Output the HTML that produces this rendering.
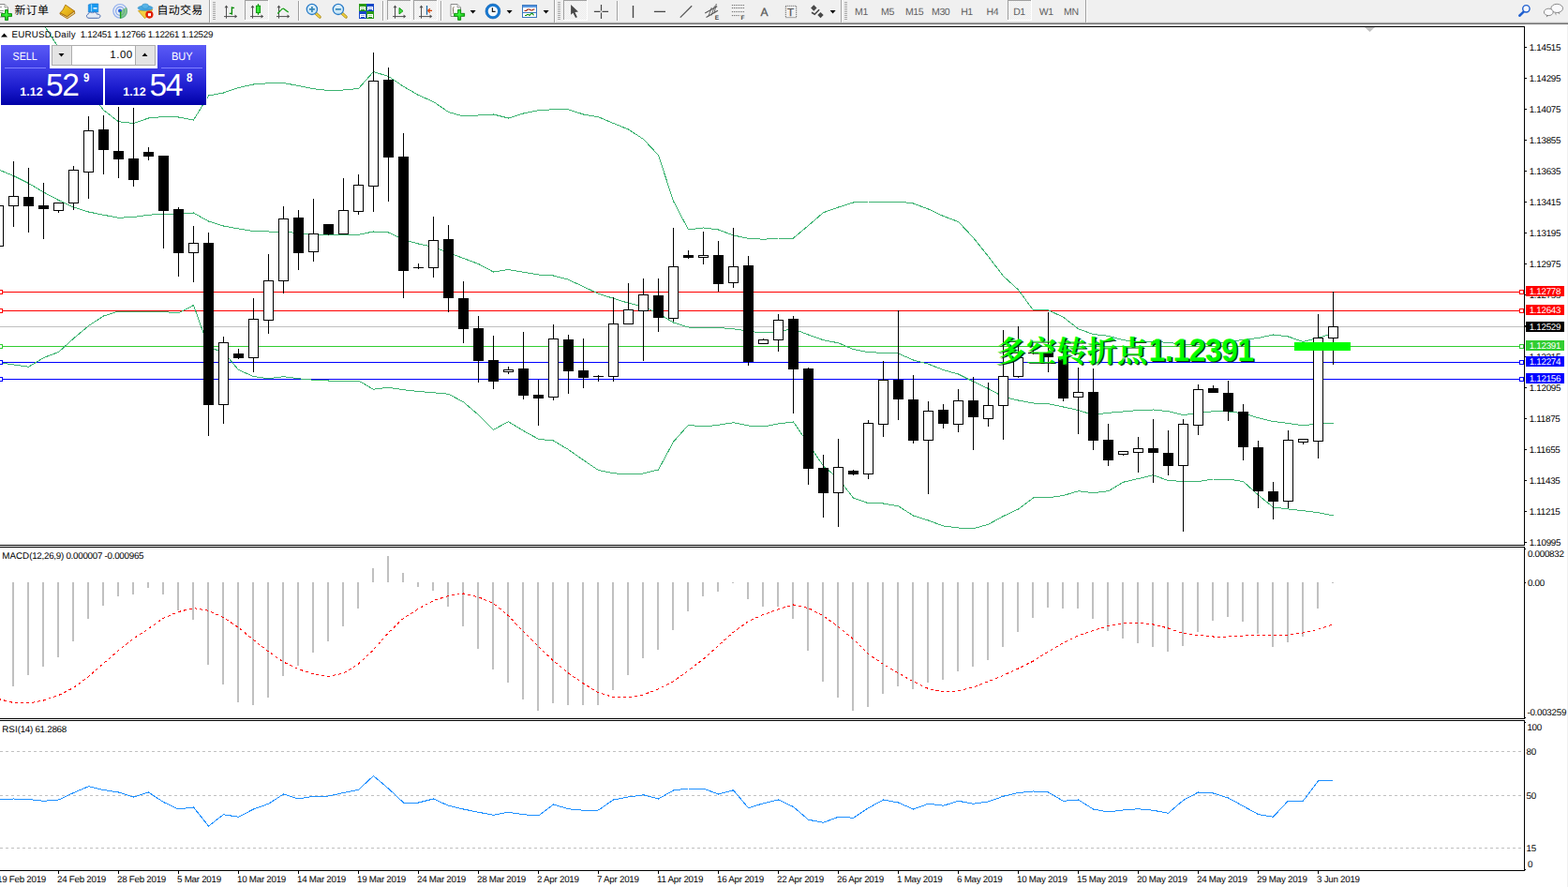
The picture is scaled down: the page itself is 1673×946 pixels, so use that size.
<!DOCTYPE html>
<html><head><meta charset="utf-8"><title>EURUSD Daily</title>
<style>
html,body{margin:0;padding:0;background:#fff;}
body{width:1673px;height:946px;position:relative;overflow:hidden;font-family:"Liberation Sans",sans-serif;font-size:9.8px;color:#000;letter-spacing:-0.27px;text-rendering:geometricPrecision;}
.t{position:absolute;white-space:nowrap;line-height:12px;height:12px;}
.ax{left:1631.7px;}
.pl{position:absolute;left:1628px;width:41px;height:11px;color:#fff;}
.pl span{position:absolute;left:3.7px;top:1px;line-height:11px;white-space:nowrap;}
.dt{top:933px;}
.tf{position:absolute;top:7px;letter-spacing:-0.4px;height:13px;line-height:13px;font-size:10.5px;color:#606060;white-space:nowrap;}
svg{position:absolute;left:0;top:0;}

</style></head><body>
<svg width="1673" height="946" viewBox="0 0 1673 946" shape-rendering="crispEdges">
<defs><clipPath id="cm"><rect x="0" y="29" width="1626" height="552"/></clipPath>
<clipPath id="c2"><rect x="0" y="584" width="1626" height="182"/></clipPath>
<clipPath id="c3"><rect x="0" y="769" width="1626" height="159"/></clipPath>
<linearGradient id="gb" x1="0" y1="0" x2="0" y2="1"><stop offset="0" stop-color="#5a5af6"/><stop offset="1" stop-color="#3a3ae4"/></linearGradient>
<linearGradient id="gp" x1="0" y1="0" x2="0" y2="1"><stop offset="0" stop-color="#3c3ce6"/><stop offset="0.55" stop-color="#1a1acc"/><stop offset="1" stop-color="#0000a6"/></linearGradient>
</defs>
<g fill="#000">
<rect x="0" y="28" width="1627" height="1"/>
<rect x="1626" y="28" width="1" height="554"/>
<rect x="0" y="581" width="1627" height="1"/>
<rect x="0" y="583" width="1627" height="1"/>
<rect x="1626" y="583" width="1" height="184"/>
<rect x="0" y="766" width="1627" height="1"/>
<rect x="0" y="768" width="1627" height="1"/>
<rect x="1626" y="768" width="1" height="161"/>
<rect x="0" y="928" width="1627" height="1"/>
<rect x="1627" y="50" width="2" height="1"/>
<rect x="1627" y="83" width="2" height="1"/>
<rect x="1627" y="116" width="2" height="1"/>
<rect x="1627" y="149" width="2" height="1"/>
<rect x="1627" y="182" width="2" height="1"/>
<rect x="1627" y="215" width="2" height="1"/>
<rect x="1627" y="248" width="2" height="1"/>
<rect x="1627" y="281" width="2" height="1"/>
<rect x="1627" y="314" width="2" height="1"/>
<rect x="1627" y="347" width="2" height="1"/>
<rect x="1627" y="380" width="2" height="1"/>
<rect x="1627" y="413" width="2" height="1"/>
<rect x="1627" y="446" width="2" height="1"/>
<rect x="1627" y="479" width="2" height="1"/>
<rect x="1627" y="512" width="2" height="1"/>
<rect x="1627" y="545" width="2" height="1"/>
<rect x="1627" y="578" width="2" height="1"/>
<rect x="1627" y="585" width="1" height="1"/><rect x="1627" y="348" width="1" height="1"/>
<rect x="1627" y="621" width="1" height="1"/>
<rect x="1627" y="765" width="1" height="1"/>
<rect x="1627" y="770" width="1" height="1"/><rect x="1627" y="927" width="1" height="1"/>
<rect x="62" y="929" width="1" height="3"/>
<rect x="126" y="929" width="1" height="3"/>
<rect x="190" y="929" width="1" height="3"/>
<rect x="254" y="929" width="1" height="3"/>
<rect x="318" y="929" width="1" height="3"/>
<rect x="382" y="929" width="1" height="3"/>
<rect x="446" y="929" width="1" height="3"/>
<rect x="510" y="929" width="1" height="3"/>
<rect x="574" y="929" width="1" height="3"/>
<rect x="638" y="929" width="1" height="3"/>
<rect x="702" y="929" width="1" height="3"/>
<rect x="766" y="929" width="1" height="3"/>
<rect x="830" y="929" width="1" height="3"/>
<rect x="894" y="929" width="1" height="3"/>
<rect x="958" y="929" width="1" height="3"/>
<rect x="1022" y="929" width="1" height="3"/>
<rect x="1086" y="929" width="1" height="3"/>
<rect x="1150" y="929" width="1" height="3"/>
<rect x="1214" y="929" width="1" height="3"/>
<rect x="1278" y="929" width="1" height="3"/>
<rect x="1342" y="929" width="1" height="3"/>
<rect x="1406" y="929" width="1" height="3"/>
</g>
<rect x="1672" y="26" width="1" height="920" fill="#f0f0f0"/>
<path d="M1456 29h11l-5.5 5z" fill="#c0c0c0" shape-rendering="auto"/>
<g clip-path="url(#cm)">
<rect x="0" y="311" width="1626" height="1" fill="#ff0000"/>
<rect x="0" y="331" width="1626" height="1" fill="#ff0000"/>
<rect x="0" y="348" width="1626" height="1" fill="#c0c0c0"/>
<rect x="0" y="369" width="1626" height="1" fill="#32cd32"/>
<rect x="0" y="386" width="1626" height="1" fill="#0000ff"/>
<rect x="0" y="404" width="1626" height="1" fill="#0000ff"/>
<polyline points="14.5,-23.5 30.5,1.5 46.5,26.2 62.5,50.9 78.5,73 94.5,96 110.5,117.5 126.5,129.75 142.5,131.5 158.5,126 174.5,124.5 190.5,125 206.5,128 222.5,102 238.5,99 254.5,93.5 270.5,90 286.5,88.75 302.5,88.5 318.5,91.5 334.5,94.75 350.5,96.5 366.5,96 382.5,94.5 398.5,76.5 414.5,81.5 430.5,92.25 446.5,101.5 462.5,108.5 478.5,119.5 494.5,124 510.5,123 526.5,122 542.5,126 558.5,121 574.5,117.75 590.5,116.75 606.5,116.75 622.5,122 638.5,124.75 654.5,131.5 670.5,138 686.5,148.5 702.5,165.5 718.5,214.5 734.5,245 750.5,243 766.5,245 782.5,251 798.5,254.25 814.5,255.25 830.5,254 846.5,254 862.5,240.5 878.5,226.75 894.5,221 910.5,216 926.5,215 942.5,215 958.5,215 974.5,217 990.5,223 1006.5,230.5 1022.5,236.5 1038.5,253.5 1054.5,273.5 1070.5,294.5 1086.5,309 1102.5,331 1118.5,330.75 1134.5,338.25 1150.5,350.75 1166.5,356.5 1182.5,358.25 1198.5,362.75 1214.5,364.5 1230.5,364 1246.5,365.5 1262.5,367 1278.5,367.5 1294.5,366.5 1310.5,364.5 1326.5,362.5 1342.5,360.5 1358.5,357 1374.5,359 1390.5,364.5 1406.5,360.25 1422.5,355.5" fill="none" stroke="#3cb371" stroke-width="1"/>
<polyline points="-1.5,181 14.5,187.5 30.5,195.5 46.5,205 62.5,213.5 78.5,221 94.5,226 110.5,229.25 126.5,232.25 142.5,231.5 158.5,229.25 174.5,228 190.5,228.5 206.5,227 222.5,236 238.5,241 254.5,244 270.5,246.5 286.5,247 302.5,247.25 318.5,248.5 334.5,250 350.5,250.5 366.5,250.75 382.5,250.25 398.5,247 414.5,248 430.5,255.5 446.5,260 462.5,263.5 478.5,269.5 494.5,275.5 510.5,281.5 526.5,290 542.5,287.5 558.5,290.25 574.5,293 590.5,294 606.5,298.25 622.5,305.75 638.5,313.25 654.5,318.25 670.5,323.25 686.5,327 702.5,334.5 718.5,344 734.5,349 750.5,349.25 766.5,349.5 782.5,350.75 798.5,353.25 814.5,355 830.5,353.5 846.5,350.75 862.5,357 878.5,362.75 894.5,365.75 910.5,372.5 926.5,375.75 942.5,376.25 958.5,377 974.5,384 990.5,388.25 1006.5,394.5 1022.5,399 1038.5,407 1054.5,414.5 1070.5,423.25 1086.5,427 1102.5,430 1118.5,430.75 1134.5,434 1150.5,437.5 1166.5,442.5 1182.5,440.25 1198.5,439 1214.5,437.5 1230.5,437 1246.5,438.75 1262.5,442.5 1278.5,440.75 1294.5,438.75 1310.5,439 1326.5,440.75 1342.5,445.75 1358.5,449.5 1374.5,451.5 1390.5,453.75 1406.5,452 1422.5,451.5" fill="none" stroke="#3cb371" stroke-width="1"/>
<polyline points="-1.5,386.5 14.5,389 30.5,391.25 46.5,381.5 62.5,375.5 78.5,361 94.5,347.5 110.5,337 126.5,332 142.5,332 158.5,332.5 174.5,332.5 190.5,334 206.5,325.5 222.5,370.5 238.5,375.5 254.5,394.5 270.5,401.5 286.5,403.75 302.5,401.75 318.5,403.75 334.5,405.25 350.5,406 366.5,406 382.5,406 398.5,415.25 414.5,413.25 430.5,415.75 446.5,417.5 462.5,418.75 478.5,420.25 494.5,428.75 510.5,442.5 526.5,458.25 542.5,449.75 558.5,459.5 574.5,468.25 590.5,470 606.5,479.5 622.5,490.75 638.5,501.5 654.5,504.75 670.5,506 686.5,505 702.5,501 718.5,471.25 734.5,453.25 750.5,455 766.5,453.25 782.5,450.75 798.5,454 814.5,455 830.5,452 846.5,450 862.5,473.25 878.5,497 894.5,510.5 910.5,531 926.5,536.75 942.5,537 958.5,539.75 974.5,550 990.5,555 1006.5,561 1022.5,563 1038.5,563.75 1054.5,559.25 1070.5,550.5 1086.5,543 1102.5,531 1118.5,530.75 1134.5,528.5 1150.5,523.75 1166.5,525.75 1182.5,523.75 1198.5,514.25 1214.5,510.5 1230.5,506.75 1246.5,512.5 1262.5,513.5 1278.5,513.5 1294.5,511 1310.5,511 1326.5,513.5 1342.5,528 1358.5,541 1374.5,543 1390.5,544.75 1406.5,546.75 1422.5,550" fill="none" stroke="#3cb371" stroke-width="1"/>
<rect x="1621.5" y="309.5" width="4" height="4" fill="#fff" stroke="#ff0000" stroke-width="1"/>
<rect x="-1.5" y="309.5" width="4" height="4" fill="#fff" stroke="#ff0000" stroke-width="1"/>
<rect x="1621.5" y="329.5" width="4" height="4" fill="#fff" stroke="#ff0000" stroke-width="1"/>
<rect x="-1.5" y="329.5" width="4" height="4" fill="#fff" stroke="#ff0000" stroke-width="1"/>
<rect x="1621.5" y="367.5" width="4" height="4" fill="#fff" stroke="#32cd32" stroke-width="1"/>
<rect x="-1.5" y="367.5" width="4" height="4" fill="#fff" stroke="#32cd32" stroke-width="1"/>
<rect x="1621.5" y="384.5" width="4" height="4" fill="#fff" stroke="#0000ff" stroke-width="1"/>
<rect x="-1.5" y="384.5" width="4" height="4" fill="#fff" stroke="#0000ff" stroke-width="1"/>
<rect x="1621.5" y="402.5" width="4" height="4" fill="#fff" stroke="#0000ff" stroke-width="1"/>
<rect x="-1.5" y="402.5" width="4" height="4" fill="#fff" stroke="#0000ff" stroke-width="1"/>
<path d="M-2 219h1v43h-1zM14 172h1v70h-1zM30 179h1v69h-1zM46 195h1v60h-1zM62 216h1v11h-1zM78 177h1v47h-1zM94 124h1v88h-1zM110 123h1v63h-1zM126 114h1v76h-1zM142 115h1v84h-1zM158 157h1v14h-1zM174 166h1v99h-1zM190 221h1v74h-1zM206 241h1v60h-1zM222 248h1v217h-1zM238 359h1v93h-1zM254 372h1v11h-1zM270 318h1v79h-1zM286 271h1v85h-1zM302 220h1v93h-1zM318 224h1v64h-1zM334 212h1v67h-1zM350 239h1v12h-1zM366 190h1v59h-1zM382 186h1v43h-1zM398 56h1v170h-1zM414 72h1v143h-1zM430 142h1v176h-1zM446 281h1v6h-1zM462 231h1v65h-1zM478 240h1v93h-1zM494 300h1v66h-1zM510 337h1v71h-1zM526 358h1v57h-1zM542 391h1v8h-1zM558 354h1v72h-1zM574 405h1v49h-1zM590 346h1v81h-1zM606 357h1v63h-1zM622 361h1v53h-1zM638 400h1v7h-1zM654 317h1v90h-1zM670 302h1v43h-1zM686 297h1v88h-1zM702 297h1v57h-1zM718 243h1v100h-1zM734 267h1v9h-1zM750 247h1v35h-1zM766 257h1v54h-1zM782 243h1v64h-1zM798 273h1v117h-1zM814 361h1v5h-1zM830 335h1v40h-1zM846 337h1v104h-1zM862 392h1v125h-1zM878 485h1v67h-1zM894 468h1v94h-1zM910 501h1v6h-1zM926 448h1v63h-1zM942 385h1v81h-1zM958 331h1v117h-1zM974 400h1v73h-1zM990 428h1v99h-1zM1006 431h1v26h-1zM1022 415h1v46h-1zM1038 402h1v78h-1zM1054 408h1v47h-1zM1070 352h1v117h-1zM1086 348h1v55h-1zM1102 373h1v5h-1zM1118 333h1v64h-1zM1134 366h1v62h-1zM1150 392h1v71h-1zM1166 393h1v87h-1zM1182 452h1v45h-1zM1198 481h1v5h-1zM1214 466h1v38h-1zM1230 447h1v68h-1zM1246 459h1v48h-1zM1262 447h1v120h-1zM1278 410h1v54h-1zM1294 411h1v7h-1zM1310 406h1v43h-1zM1326 431h1v60h-1zM1342 470h1v72h-1zM1358 514h1v40h-1zM1374 459h1v83h-1zM1390 468h1v6h-1zM1406 335h1v154h-1zM1422 311h1v78h-1z" fill="#000"/>
<path d="M25 210h11v10h-11zM41 219h11v4h-11zM105 138h11v22h-11zM121 161h11v9h-11zM137 169h11v23h-11zM153 162h11v5h-11zM169 166h11v59h-11zM185 223h11v47h-11zM217 259h11v173h-11zM249 377h11v5h-11zM313 232h11v38h-11zM345 239h11v11h-11zM409 85h11v83h-11zM425 167h11v122h-11zM441 285h11v1h-11zM473 255h11v63h-11zM489 318h11v33h-11zM505 350h11v35h-11zM521 384h11v23h-11zM553 393h11v29h-11zM569 421h11v4h-11zM601 362h11v34h-11zM617 395h11v8h-11zM633 401h11v1h-11zM697 315h11v24h-11zM729 272h11v3h-11zM761 272h11v31h-11zM793 283h11v103h-11zM841 340h11v54h-11zM857 393h11v107h-11zM873 499h11v27h-11zM905 502h11v4h-11zM953 405h11v21h-11zM969 426h11v44h-11zM1001 437h11v15h-11zM1033 427h11v18h-11zM1097 376h11v1h-11zM1113 376h11v5h-11zM1129 381h11v44h-11zM1161 418h11v52h-11zM1177 469h11v22h-11zM1225 478h11v5h-11zM1241 483h11v14h-11zM1289 414h11v5h-11zM1305 419h11v20h-11zM1321 439h11v38h-11zM1337 477h11v47h-11zM1353 524h11v11h-11z" fill="#000"/>
<path d="M-6.5 219.5h10v43h-10zM9.5 209.5h10v10h-10zM57.5 216.5h10v8h-10zM73.5 181.5h10v35h-10zM89.5 139.5h10v44h-10zM201.5 259.5h10v10h-10zM233.5 365.5h10v66h-10zM265.5 340.5h10v41h-10zM281.5 299.5h10v42h-10zM297.5 233.5h10v66h-10zM329.5 249.5h10v19h-10zM361.5 224.5h10v25h-10zM377.5 197.5h10v28h-10zM393.5 86.5h10v112h-10zM457.5 256.5h10v29h-10zM537.5 394.5h10v2h-10zM585.5 361.5h10v62h-10zM649.5 345.5h10v56h-10zM665.5 330.5h10v15h-10zM681.5 314.5h10v17h-10zM713.5 284.5h10v55h-10zM745.5 272.5h10v2h-10zM777.5 284.5h10v17h-10zM809.5 362.5h10v4h-10zM825.5 341.5h10v21h-10zM889.5 498.5h10v27h-10zM921.5 451.5h10v54h-10zM937.5 405.5h10v47h-10zM985.5 438.5h10v31h-10zM1017.5 427.5h10v25h-10zM1049.5 432.5h10v14h-10zM1065.5 401.5h10v31h-10zM1081.5 381.5h10v20h-10zM1145.5 418.5h10v5h-10zM1193.5 481.5h10v3h-10zM1209.5 478.5h10v4h-10zM1257.5 452.5h10v44h-10zM1273.5 415.5h10v38h-10zM1369.5 469.5h10v65h-10zM1385.5 468.5h10v3h-10zM1401.5 360.5h10v110h-10zM1417.5 348.5h10v12h-10z" fill="#fff" stroke="#000" stroke-width="1"/>
<rect x="1381" y="365" width="60" height="9" fill="#00ff00"/>
</g>
<text x="1064.1" y="386.5" font-family="Liberation Serif, Noto Serif CJK SC, serif" font-weight="bold" font-size="32" letter-spacing="0.4" fill="#0a3a0a" shape-rendering="geometricPrecision">多空转折点</text>
<text transform="translate(1227.4 386.2) scale(0.925 1)" font-family="Liberation Sans, sans-serif" font-weight="bold" font-size="34" fill="#0a3a0a" shape-rendering="geometricPrecision">1.12391</text>
<text x="1062.5" y="385.5" font-family="Liberation Serif, Noto Serif CJK SC, serif" font-weight="bold" font-size="32" letter-spacing="0.4" fill="#00ff00" shape-rendering="geometricPrecision">多空转折点</text>
<text transform="translate(1225.8 385.2) scale(0.925 1)" font-family="Liberation Sans, sans-serif" font-weight="bold" font-size="34" fill="#00ff00" shape-rendering="geometricPrecision">1.12391</text>
<g clip-path="url(#c2)">
<path d="M13 621h2v111h-2zM29 621h2v99h-2zM45 621h2v90h-2zM61 621h2v80h-2zM77 621h2v63h-2zM93 621h2v39h-2zM109 621h2v25h-2zM125 621h2v15h-2zM141 621h2v13h-2zM157 621h2v6h-2zM173 621h2v13h-2zM189 621h2v30h-2zM205 621h2v40h-2zM221 621h2v88h-2zM237 621h2v109h-2zM253 621h2v128h-2zM269 621h2v131h-2zM285 621h2v123h-2zM301 621h2v100h-2zM317 621h2v89h-2zM333 621h2v75h-2zM349 621h2v63h-2zM365 621h2v47h-2zM381 621h2v28h-2zM397 606h2v15h-2zM413 593h2v28h-2zM429 611h2v10h-2zM445 621h2v5h-2zM461 621h2v9h-2zM477 621h2v26h-2zM493 621h2v47h-2zM509 621h2v71h-2zM525 621h2v93h-2zM541 621h2v107h-2zM557 621h2v125h-2zM573 621h2v137h-2zM589 621h2v129h-2zM605 621h2v131h-2zM621 621h2v131h-2zM637 621h2v131h-2zM653 621h2v115h-2zM669 621h2v99h-2zM685 621h2v81h-2zM701 621h2v72h-2zM717 621h2v51h-2zM733 621h2v31h-2zM749 621h2v15h-2zM765 621h2v10h-2zM781 621h2v1h-2zM797 621h2v18h-2zM813 621h2v26h-2zM829 621h2v26h-2zM845 621h2v39h-2zM861 621h2v73h-2zM877 621h2v106h-2zM893 621h2v123h-2zM909 621h2v137h-2zM925 621h2v133h-2zM941 621h2v119h-2zM957 621h2v111h-2zM973 621h2v114h-2zM989 621h2v107h-2zM1005 621h2v104h-2zM1021 621h2v95h-2zM1037 621h2v90h-2zM1053 621h2v83h-2zM1069 621h2v69h-2zM1085 621h2v53h-2zM1101 621h2v38h-2zM1117 621h2v27h-2zM1133 621h2v28h-2zM1149 621h2v28h-2zM1165 621h2v39h-2zM1181 621h2v52h-2zM1197 621h2v60h-2zM1213 621h2v65h-2zM1229 621h2v69h-2zM1245 621h2v74h-2zM1261 621h2v68h-2zM1277 621h2v53h-2zM1293 621h2v41h-2zM1309 621h2v37h-2zM1325 621h2v42h-2zM1341 621h2v55h-2zM1357 621h2v69h-2zM1373 621h2v64h-2zM1389 621h2v58h-2zM1405 621h2v28h-2zM1421 621h2v1h-2z" fill="#c0c0c0"/>
<polyline points="-1.5,745.5 14.5,749.5 30.5,750 46.5,747 62.5,741.5 78.5,733.5 94.5,721.5 110.5,707.5 126.5,693.5 142.5,681 158.5,670.5 174.5,659.25 190.5,652.5 206.5,648.5 222.5,651.25 238.5,658.75 254.5,669.25 270.5,682.5 286.5,695 302.5,706 318.5,713.75 334.5,718.75 350.5,721.5 366.5,718 382.5,708 398.5,693 414.5,674.75 430.5,659.25 446.5,649.25 462.5,640.5 478.5,635.5 494.5,633 510.5,636.75 526.5,643.5 542.5,656.75 558.5,673.75 574.5,689.75 590.5,704.75 606.5,718 622.5,729 638.5,738.75 654.5,743.5 670.5,743.5 686.5,741 702.5,734.75 718.5,726.75 734.5,715 750.5,703 766.5,688.5 782.5,674.25 798.5,662.5 814.5,655.5 830.5,649.75 846.5,645 862.5,648.5 878.5,656.75 894.5,668.5 910.5,681.75 926.5,697.5 942.5,708.5 958.5,717.75 974.5,727 990.5,734.5 1006.5,738 1022.5,736.75 1038.5,733 1054.5,726.75 1070.5,720.25 1086.5,713 1102.5,705 1118.5,695 1134.5,685.5 1150.5,678 1166.5,672.5 1182.5,667.5 1198.5,665 1214.5,664 1230.5,666 1246.5,670 1262.5,675.5 1278.5,677.5 1294.5,679 1310.5,679 1326.5,678 1342.5,677.25 1358.5,678 1374.5,677 1390.5,675 1406.5,671.25 1422.5,665.75" fill="none" stroke="#ff0000" stroke-width="1" stroke-dasharray="3 3"/>
</g>
<g clip-path="url(#c3)">
<path d="M0 801.5H1626" stroke="#c0c0c0" stroke-width="1" stroke-dasharray="3 3" fill="none"/>
<path d="M0 848.5H1626" stroke="#c0c0c0" stroke-width="1" stroke-dasharray="3 3" fill="none"/>
<path d="M0 904.5H1626" stroke="#c0c0c0" stroke-width="1" stroke-dasharray="3 3" fill="none"/>
<polyline points="-1.5,853 14.5,852 30.5,852.5 46.5,854.25 62.5,853 78.5,845.5 94.5,838.75 110.5,842.5 126.5,845 142.5,850 158.5,845 174.5,855.5 190.5,863 206.5,861 222.5,881 238.5,868.75 254.5,871.25 270.5,863 286.5,857.25 302.5,847 318.5,852 334.5,849.25 350.5,849 366.5,845.5 382.5,842.25 398.5,827.5 414.5,841 430.5,856 446.5,856 462.5,852 478.5,859.25 494.5,863 510.5,866.25 526.5,869.25 542.5,866.25 558.5,868.75 574.5,870 590.5,858 606.5,862.75 622.5,864.25 638.5,864 654.5,853 670.5,850 686.5,847.75 702.5,852 718.5,843 734.5,841 750.5,841 766.5,847 782.5,842.75 798.5,861.75 814.5,856.75 830.5,853 846.5,860.5 862.5,874.25 878.5,877.25 894.5,871.25 910.5,872.25 926.5,861.75 942.5,853 958.5,856 974.5,863 990.5,857.25 1006.5,859.25 1022.5,854.25 1038.5,857.25 1054.5,855 1070.5,849.25 1086.5,845.5 1102.5,844 1118.5,845 1134.5,854.25 1150.5,853 1166.5,863 1182.5,866 1198.5,864 1214.5,862.75 1230.5,864.25 1246.5,867.25 1262.5,853.5 1278.5,845 1294.5,846 1310.5,851 1326.5,859.75 1342.5,868.5 1358.5,871.25 1374.5,854 1390.5,854 1406.5,833 1422.5,832" fill="none" stroke="#1e90ff" stroke-width="1"/>
</g>
<g>
<rect x="1" y="48" width="220" height="64" fill="#fff"/>
<rect x="1" y="48" width="52" height="25" fill="url(#gb)"/>
<rect x="168" y="48" width="52" height="25" fill="url(#gb)"/>
<rect x="5" y="72" width="44" height="1" fill="#8080ff"/>
<rect x="172" y="72" width="44" height="1" fill="#8080ff"/>
<rect x="1" y="73" width="109" height="39" fill="url(#gp)"/>
<rect x="112" y="73" width="108" height="39" fill="url(#gp)"/>
<rect x="55.5" y="48.5" width="110" height="21" fill="#fff" stroke="#adadad"/>
<rect x="56" y="49" width="20" height="20" fill="#e4e4e4"/>
<rect x="145" y="49" width="20" height="20" fill="#e4e4e4"/>
<rect x="76" y="49" width="1" height="20" fill="#adadad"/><rect x="144" y="49" width="1" height="20" fill="#adadad"/>
<path d="M62.5 57h6l-3 3.5z M151.5 60h6l-3 -3.5z" fill="#000" shape-rendering="geometricPrecision"/>
</g>
<path d="M1 39.5h7l-3.5 -4z" fill="#000" shape-rendering="geometricPrecision"/>
</svg>
<div class="t" style="left:12.5px;top:32px;"><span style="letter-spacing:0.2px;">EURUSD,Daily</span>&nbsp;&nbsp;1.12451 1.12766 1.12261 1.12529</div>
<div class="t" style="left:2.3px;top:588px;"><span style="letter-spacing:0;">MACD</span>(12,26,9) 0.000007 -0.000965</div>
<div class="t" style="left:2.3px;top:773px;"><span style="letter-spacing:0;">RSI</span>(14) 61.2868</div>
<div class="t ax" style="top:46px;">1.14515</div>
<div class="t ax" style="top:79px;">1.14295</div>
<div class="t ax" style="top:112px;">1.14075</div>
<div class="t ax" style="top:145px;">1.13855</div>
<div class="t ax" style="top:178px;">1.13635</div>
<div class="t ax" style="top:211px;">1.13415</div>
<div class="t ax" style="top:244px;">1.13195</div>
<div class="t ax" style="top:277px;">1.12975</div>
<div class="t ax" style="top:310px;">1.12755</div>
<div class="t ax" style="top:343px;">1.12535</div>
<div class="t ax" style="top:376px;">1.12315</div>
<div class="t ax" style="top:409px;">1.12095</div>
<div class="t ax" style="top:442px;">1.11875</div>
<div class="t ax" style="top:475px;">1.11655</div>
<div class="t ax" style="top:508px;">1.11435</div>
<div class="t ax" style="top:541px;">1.11215</div>
<div class="t ax" style="top:574px;">1.10995</div>
<div class="t" style="left:1629.9px;top:586px;">0.000832</div>
<div class="t" style="left:1629.9px;top:617px;">0.00</div>
<div class="t" style="left:1629.4px;top:755px;">-0.003259</div>
<div class="t" style="left:1629.4px;top:771px;">100</div>
<div class="t" style="left:1628.6px;top:797px;">80</div>
<div class="t" style="left:1628.6px;top:844px;">50</div>
<div class="t" style="left:1628.6px;top:900px;">15</div>
<div class="t" style="left:1629.9px;top:917px;">0</div>
<div class="pl" style="top:305px;background:#ff0000;"><span>1.12778</span></div>
<div class="pl" style="top:325px;background:#ff0000;"><span>1.12643</span></div>
<div class="pl" style="top:343px;background:#000000;"><span>1.12529</span></div>
<div class="pl" style="top:363px;background:#32cd32;"><span>1.12391</span></div>
<div class="pl" style="top:380px;background:#0000ff;"><span>1.12274</span></div>
<div class="pl" style="top:398px;background:#0000ff;"><span>1.12156</span></div>
<div class="t dt" style="left:-3px;">19 Feb 2019</div>
<div class="t dt" style="left:61px;">24 Feb 2019</div>
<div class="t dt" style="left:125px;">28 Feb 2019</div>
<div class="t dt" style="left:189px;">5 Mar 2019</div>
<div class="t dt" style="left:253px;">10 Mar 2019</div>
<div class="t dt" style="left:317px;">14 Mar 2019</div>
<div class="t dt" style="left:381px;">19 Mar 2019</div>
<div class="t dt" style="left:445px;">24 Mar 2019</div>
<div class="t dt" style="left:509px;">28 Mar 2019</div>
<div class="t dt" style="left:573px;">2 Apr 2019</div>
<div class="t dt" style="left:637px;">7 Apr 2019</div>
<div class="t dt" style="left:701px;">11 Apr 2019</div>
<div class="t dt" style="left:765px;">16 Apr 2019</div>
<div class="t dt" style="left:829px;">22 Apr 2019</div>
<div class="t dt" style="left:893px;">26 Apr 2019</div>
<div class="t dt" style="left:957px;">1 May 2019</div>
<div class="t dt" style="left:1021px;">6 May 2019</div>
<div class="t dt" style="left:1085px;">10 May 2019</div>
<div class="t dt" style="left:1149px;">15 May 2019</div>
<div class="t dt" style="left:1213px;">20 May 2019</div>
<div class="t dt" style="left:1277px;">24 May 2019</div>
<div class="t dt" style="left:1341px;">29 May 2019</div>
<div class="t dt" style="left:1405px;">3 Jun 2019</div>
<div class="t" style="left:1px;top:52px;width:52px;text-align:center;color:#fff;font-size:12px;line-height:16px;height:16px;letter-spacing:0;"><span style="display:inline-block;transform:scaleX(0.89);">SELL</span></div>
<div class="t" style="left:168px;top:52px;width:52px;text-align:center;color:#fff;font-size:12px;line-height:16px;height:16px;letter-spacing:0;"><span style="display:inline-block;transform:scaleX(0.92);">BUY</span></div>
<div class="t" style="left:77.7px;top:51px;width:64px;text-align:right;font-size:11.5px;line-height:16px;height:16px;letter-spacing:0.5px;">1.00</div>
<div class="t" style="left:21.3px;top:91px;color:#fff;font-weight:bold;font-size:12.5px;line-height:14px;height:14px;letter-spacing:0;">1.12</div>
<div class="t" style="left:49px;top:73px;color:#fff;font-size:33.6px;line-height:38px;height:38px;letter-spacing:-1.5px;">52</div>
<div class="t" style="left:88.5px;top:76px;color:#fff;font-weight:bold;font-size:13px;line-height:14px;height:14px;letter-spacing:0;"><span style="display:inline-block;transform:scaleX(0.88);transform-origin:0 0;">9</span></div>
<div class="t" style="left:131.3px;top:91px;color:#fff;font-weight:bold;font-size:12.5px;line-height:14px;height:14px;letter-spacing:0;">1.12</div>
<div class="t" style="left:159.5px;top:73px;color:#fff;font-size:33.6px;line-height:38px;height:38px;letter-spacing:-1.5px;">54</div>
<div class="t" style="left:199px;top:76px;color:#fff;font-weight:bold;font-size:13px;line-height:14px;height:14px;letter-spacing:0;"><span style="display:inline-block;transform:scaleX(0.88);transform-origin:0 0;">8</span></div>
<svg width="1673" height="28" viewBox="0 0 1673 28" style="position:absolute;left:0;top:0;">
<defs><pattern id="chk" width="2" height="2" patternUnits="userSpaceOnUse"><rect width="2" height="2" fill="#f7f7f7"/><rect width="1" height="1" fill="#ececec"/><rect x="1" y="1" width="1" height="1" fill="#ececec"/></pattern><linearGradient id="gold" x1="0" y1="0" x2="1" y2="1"><stop offset="0" stop-color="#f8d428"/><stop offset="1" stop-color="#d89a10"/></linearGradient><linearGradient id="lens" x1="0" y1="0" x2="0" y2="1"><stop offset="0" stop-color="#e4f4fc"/><stop offset="1" stop-color="#c4e4f6"/></linearGradient><radialGradient id="grn" cx="0.45" cy="0.4" r="0.7"><stop offset="0" stop-color="#40ff40"/><stop offset="1" stop-color="#10b010"/></radialGradient></defs>
<rect x="0" y="0" width="1673" height="23" fill="#f0f0f0"/>
<rect x="0" y="23" width="1673" height="1" fill="#e2e2e2"/><rect x="0" y="24" width="1673" height="1" fill="#a8a8a8"/><rect x="0" y="25" width="1673" height="1" fill="#707070"/>
<path d="M-2 4.5h7l3.5 3.5v10h-10.5z" fill="#fff" stroke="#8a8a8a" stroke-width="1"/><path d="M5 4.5v3.5h3.5" fill="#e8e8e8" stroke="#8a8a8a" stroke-width="0.8"/>
<path d="M0 7.5h2M0 11.5h4M0 13.5h3" stroke="#9a9a9a" stroke-width="1"/>
<path d="M5.50 10.55h3.00v4.00h4.00v3.00h-4.00v4.00h-3.00v-4.00h-4.00v-3.00h4.00z" fill="url(#grn)" stroke="#0a8a0a" stroke-width="0.9"/>
<text x="15.6" y="14.6" font-family="Liberation Sans, Noto Sans CJK SC, sans-serif" font-size="12" letter-spacing="0.24" fill="#000">新订单</text>
<path d="M64.2 13.7l7.400 4 7.700-5.900 0.600 2.500-8.100 5.500-7.800-4.800z" fill="#e2cc88" stroke="#a86c08" stroke-width="0.9"/>
<path d="M69.800 5.200l9.500 6.500-7.700 5.900-7.400-3.900q3.600-3 5.600-8.500z" fill="url(#gold)" stroke="#a86c08" stroke-width="0.9"/>
<path d="M94.3 5l3-1h7.500v9h-10.500z" fill="#189af0" stroke="#1a7ad0" stroke-width="0.6"/><path d="M97.6 4.5v8" stroke="#bfe4ff" stroke-width="0.8"/><rect x="99.5" y="8" width="4" height="1.6" fill="#dff2ff"/>
<path d="M95 19.3c-3 0-3.6-3.6-0.8-4.2 0.2-2.2 3.2-2.8 4.3-1 1.4-2 4.6-1.4 4.8 1 2.6-0.4 4.2 1.2 3.6 2.8-0.4 1-1.4 1.4-2.4 1.4z" fill="#e6ebf4" stroke="#4a6cb0" stroke-width="1"/>
<circle cx="128.1" cy="11.8" r="7.8" fill="#e6ecf6"/><g fill="none" stroke="#86a6ea" stroke-width="1.2"><circle cx="128.1" cy="11.8" r="7.3" opacity="0.85"/><circle cx="128.1" cy="11.8" r="4.5"/></g>
<path d="M128.1 11.8V19.700A7.900 7.900 0 0 0 134.900 7.800z" fill="#4cb04c" opacity="0.6"/>
<circle cx="128" cy="11.6" r="2" fill="#2858d8"/><path d="M128.6 12V19.6" stroke="#18a018" stroke-width="1.4"/>
<path d="M147.5 11.6l15.4-1.4-8.3 9.5z" fill="#f4d040" stroke="#c89a10" stroke-width="0.8"/>
<ellipse cx="155" cy="8.6" rx="7.9" ry="2.6" fill="#48a8e0" stroke="#2a88c0" stroke-width="0.6"/><ellipse cx="155" cy="6.6" rx="3.6" ry="2.7" fill="#58b4e8" stroke="#2a88c0" stroke-width="0.5"/>
<circle cx="159.4" cy="15.6" r="4.1" fill="#e02000"/><rect x="157.9" y="14.1" width="3.1" height="3.1" fill="#fff"/>
<text x="167.6" y="14.6" font-family="Liberation Sans, Noto Sans CJK SC, sans-serif" font-size="12" letter-spacing="0.24" fill="#000">自动交易</text>
<rect x="223" y="0" width="1" height="24" fill="#a0a0a0"/><rect x="224" y="0" width="1" height="24" fill="#fff"/>
<rect x="227" y="2" width="3" height="1" fill="#a8a8a8"/><rect x="227" y="4" width="3" height="1" fill="#a8a8a8"/><rect x="227" y="6" width="3" height="1" fill="#a8a8a8"/><rect x="227" y="8" width="3" height="1" fill="#a8a8a8"/><rect x="227" y="10" width="3" height="1" fill="#a8a8a8"/><rect x="227" y="12" width="3" height="1" fill="#a8a8a8"/><rect x="227" y="14" width="3" height="1" fill="#a8a8a8"/><rect x="227" y="16" width="3" height="1" fill="#a8a8a8"/><rect x="227" y="18" width="3" height="1" fill="#a8a8a8"/><rect x="227" y="20" width="3" height="1" fill="#a8a8a8"/>
<g stroke="#505050" stroke-width="1" fill="none"><path d="M241.5 19.7V6.6M239.0 17.6H251.5"/></g><path d="M241.5 5.6l-2 2.6h4zM253.2 17.6l-2.6 -2v4z" fill="#505050"/>
<path d="M247.4 7.2V15.8M247.4 8.4h2.6M244.8 14.3h2.6" stroke="#008a00" stroke-width="1.3" fill="none"/>
<rect x="261" y="0" width="25" height="22" fill="url(#chk)"/><rect x="261" y="0" width="25" height="1" fill="#a0a0a0"/><rect x="261" y="0" width="1" height="22" fill="#a0a0a0"/><rect x="286" y="0" width="1" height="22" fill="#fff"/><rect x="261" y="21" width="26" height="1" fill="#fff"/>
<g stroke="#505050" stroke-width="1" fill="none"><path d="M269.5 19.7V6.6M267.0 17.6H279.5"/></g><path d="M269.5 5.6l-2 2.6h4zM281.2 17.6l-2.6 -2v4z" fill="#505050"/>
<path d="M275.5 4.2V15.8" stroke="#009000" stroke-width="1.2"/><rect x="273.4" y="6.2" width="4.2" height="7.4" fill="#38e838" stroke="#009000" stroke-width="0.9"/>
<g stroke="#505050" stroke-width="1" fill="none"><path d="M297.5 19.7V6.6M295.0 17.6H307.5"/></g><path d="M297.5 5.6l-2 2.6h4zM309.2 17.6l-2.6 -2v4z" fill="#505050"/>
<path d="M296.2 14.4C299 12 300.5 9 302.2 9.2S305.5 12.6 307.8 12.9" stroke="#18a018" stroke-width="1.3" fill="none"/>
<rect x="318" y="1" width="1" height="21" fill="#a0a0a0"/><rect x="319" y="1" width="1" height="21" fill="#fff"/>
<path d="M336.9 14.2l4.3 4" stroke="#a88410" stroke-width="3" stroke-linecap="round"/><path d="M337.1 14.4l3.9 3.6" stroke="#ecd040" stroke-width="1.8" stroke-linecap="round"/>
<circle cx="332.9" cy="9.9" r="5.6" fill="url(#lens)" stroke="#2a7cc8" stroke-width="1.3"/>
<path d="M329.9 9.9h6M332.9 6.9v6" stroke="#3a88b8" stroke-width="1.7"/>
<path d="M364.9 14.2l4.3 4" stroke="#a88410" stroke-width="3" stroke-linecap="round"/><path d="M365.1 14.4l3.9 3.6" stroke="#ecd040" stroke-width="1.8" stroke-linecap="round"/>
<circle cx="360.9" cy="9.9" r="5.6" fill="url(#lens)" stroke="#2a7cc8" stroke-width="1.3"/>
<path d="M357.9 9.9h6" stroke="#3a88b8" stroke-width="1.7"/>
<rect x="383" y="4" width="8" height="8" fill="#2a9a18"/><path d="M384 7h6v4h-1v-1h-4v1h-1z" fill="#fff"/>
<rect x="385" y="8" width="4" height="1" fill="#2a9a18" opacity="0.45"/>
<rect x="391" y="4" width="8" height="8" fill="#1848c8"/><path d="M392 7h6v4h-1v-1h-4v1h-1z" fill="#fff"/>
<rect x="393" y="8" width="4" height="1" fill="#1848c8" opacity="0.45"/>
<rect x="383" y="12" width="8" height="8" fill="#1848c8"/><path d="M384 15h6v4h-1v-1h-4v1h-1z" fill="#fff"/>
<rect x="385" y="16" width="4" height="1" fill="#1848c8" opacity="0.45"/>
<rect x="391" y="12" width="8" height="8" fill="#2a9a18"/><path d="M392 15h6v4h-1v-1h-4v1h-1z" fill="#fff"/>
<rect x="393" y="16" width="4" height="1" fill="#2a9a18" opacity="0.45"/>
<rect x="408" y="1" width="1" height="21" fill="#a0a0a0"/><rect x="409" y="1" width="1" height="21" fill="#fff"/>
<rect x="413" y="0" width="25" height="22" fill="url(#chk)"/><rect x="413" y="0" width="25" height="1" fill="#a0a0a0"/><rect x="413" y="0" width="1" height="22" fill="#a0a0a0"/><rect x="438" y="0" width="1" height="22" fill="#fff"/><rect x="413" y="21" width="26" height="1" fill="#fff"/>
<g stroke="#505050" stroke-width="1" fill="none"><path d="M421.5 19.7V6.6M419.0 17.6H431.5"/></g><path d="M421.5 5.6l-2 2.6h4zM433.2 17.6l-2.6 -2v4z" fill="#505050"/>
<path d="M426 8.4l4 3.3-4 3.3z" fill="#48e048" stroke="#009000" stroke-width="0.9"/>
<rect x="441" y="0" width="25" height="22" fill="url(#chk)"/><rect x="441" y="0" width="25" height="1" fill="#a0a0a0"/><rect x="441" y="0" width="1" height="22" fill="#a0a0a0"/><rect x="466" y="0" width="1" height="22" fill="#fff"/><rect x="441" y="21" width="26" height="1" fill="#fff"/>
<g stroke="#505050" stroke-width="1" fill="none"><path d="M449.5 19.7V6.6M447.0 17.6H459.5"/></g><path d="M449.5 5.6l-2 2.6h4zM461.2 17.6l-2.6 -2v4z" fill="#505050"/>
<path d="M455.5 6V15.8" stroke="#1a6aa8" stroke-width="1.3"/><path d="M456.4 11.4h4.6M456.4 11.4l2.4-2.2M456.4 11.4l2.4 2.2" stroke="#d84000" stroke-width="1.2" fill="none"/>
<rect x="470" y="1" width="1" height="21" fill="#a0a0a0"/><rect x="471" y="1" width="1" height="21" fill="#fff"/>
<path d="M481 4.5h7l3.5 3.5v9.5h-10.5z" fill="#fff" stroke="#8a8a8a" stroke-width="1"/><path d="M488 4.5v3.5h3.5" fill="#e8e8e8" stroke="#8a8a8a" stroke-width="0.8"/><path d="M484.5 7.5c-1.6 0-1 2-1 3.500s0.800 3.500-0.800 3.500" stroke="#6a5a40" stroke-width="0.9" fill="none"/>
<path d="M488.60 10.35h3.00v4.00h4.00v3.00h-4.00v4.00h-3.00v-4.00h-4.00v-3.00h4.00z" fill="url(#grn)" stroke="#0a8a0a" stroke-width="0.9"/>
<path d="M501.6 11.0h6l-3 3.4z" fill="#000"/>
<circle cx="525.9" cy="12" r="6.6" fill="#f4f8fc" stroke="#1878d0" stroke-width="2.8"/><circle cx="525.9" cy="12" r="8" fill="none" stroke="#0a58a8" stroke-width="0.5"/>
<path d="M525.4 8.300V12.300h3.200" stroke="#202020" stroke-width="1.2" fill="none"/>
<path d="M540.6 11.0h6l-3 3.4z" fill="#000"/>
<rect x="557.5" y="5.5" width="15" height="13" fill="#fff" stroke="#3a78c0" stroke-width="1"/><rect x="558" y="6" width="14" height="2" fill="#5a98e0"/><rect x="558" y="13" width="14" height="1" fill="#3a78c0"/>
<path d="M559.5 11.5h2l1.5-1.500h2l1.500 1h1.500l1-1h1.500" stroke="#a02000" stroke-width="1.1" fill="none"/><path d="M560 16.500h1.500l1-1h1.500l1 1 2-2.200 1 0 1.500 2" stroke="#109010" stroke-width="1.1" fill="none"/>
<path d="M579.6 11.0h6l-3 3.4z" fill="#000"/>
<rect x="591" y="0" width="1" height="24" fill="#a0a0a0"/><rect x="592" y="0" width="1" height="24" fill="#fff"/>
<rect x="595" y="2" width="3" height="1" fill="#a8a8a8"/><rect x="595" y="4" width="3" height="1" fill="#a8a8a8"/><rect x="595" y="6" width="3" height="1" fill="#a8a8a8"/><rect x="595" y="8" width="3" height="1" fill="#a8a8a8"/><rect x="595" y="10" width="3" height="1" fill="#a8a8a8"/><rect x="595" y="12" width="3" height="1" fill="#a8a8a8"/><rect x="595" y="14" width="3" height="1" fill="#a8a8a8"/><rect x="595" y="16" width="3" height="1" fill="#a8a8a8"/><rect x="595" y="18" width="3" height="1" fill="#a8a8a8"/><rect x="595" y="20" width="3" height="1" fill="#a8a8a8"/>
<rect x="601" y="0" width="25" height="22" fill="url(#chk)"/><rect x="601" y="0" width="25" height="1" fill="#a0a0a0"/><rect x="601" y="0" width="1" height="22" fill="#a0a0a0"/><rect x="626" y="0" width="1" height="22" fill="#fff"/><rect x="601" y="21" width="26" height="1" fill="#fff"/>
<path d="M609.1 5.100V15.800l2.300-2.100 2.700 5.400 1.800-0.900-2.500-5.200 3.600-0.500z" fill="#484848"/>
<path d="M633.9 12.400h6.600M642.500 12.400h6.600M641.500 5.100v6.300M641.500 13.400v6.600" stroke="#484848" stroke-width="1.2" fill="none"/>
<rect x="658" y="1" width="1" height="21" fill="#a0a0a0"/><rect x="659" y="1" width="1" height="21" fill="#fff"/>
<path d="M675.500 6V19.100" stroke="#484848" stroke-width="1.4"/><path d="M697.900 12.400H710" stroke="#484848" stroke-width="1.3"/><path d="M725.800 18.600L738.200 6.200" stroke="#585858" stroke-width="1.3"/>
<path d="M752.200 13.900L765.200 6.700M753.500 18.400L766 11.200" stroke="#585858" stroke-width="1.2"/><path d="M755.800 17.500L759.300 8.100M758.900 16.600L762.500 6.300M762 14.300L764.300 4" stroke="#585858" stroke-width="0.9"/>
<text x="762.800" y="20.600" font-family="Liberation Sans, sans-serif" font-weight="bold" font-size="6.500" fill="#404040">E</text>
<path d="M780.900 5.6H793.9" stroke="#585858" stroke-width="1" stroke-dasharray="1 1"/>
<path d="M780.900 8.5H793.9" stroke="#585858" stroke-width="1" stroke-dasharray="1 1"/>
<path d="M780.900 12.6H793.9" stroke="#585858" stroke-width="1" stroke-dasharray="1 1"/>
<path d="M780.900 16.6H789.5" stroke="#585858" stroke-width="1" stroke-dasharray="1 1"/>
<text x="790.600" y="20.600" font-family="Liberation Sans, sans-serif" font-weight="bold" font-size="6.500" fill="#404040">F</text>
<text x="811.500" y="16.700" font-family="Liberation Sans, sans-serif" font-size="12" fill="#585858" stroke="#585858" stroke-width="0.3">A</text>
<rect x="838.300" y="6.300" width="11.400" height="12.400" fill="none" stroke="#585858" stroke-width="1" stroke-dasharray="1 1"/><text x="840" y="16.700" font-family="Liberation Sans, sans-serif" font-size="11.500" fill="#585858" stroke="#585858" stroke-width="0.3">T</text>
<path d="M868.300 5.300l3.200 3.200-3.200 3.200-3.200-3.200zM875.500 12.900l3.200 3.200-3.200 3.200-3.200-3.200z" fill="#484848"/><path d="M866 13.300l3.200 2 4.900-5" stroke="#484848" stroke-width="1.6" fill="none"/>
<path d="M885.6 11.0h6l-3 3.4z" fill="#000"/>
<rect x="897" y="0" width="1" height="24" fill="#a0a0a0"/><rect x="898" y="0" width="1" height="24" fill="#fff"/>
<rect x="901" y="2" width="3" height="1" fill="#a8a8a8"/><rect x="901" y="4" width="3" height="1" fill="#a8a8a8"/><rect x="901" y="6" width="3" height="1" fill="#a8a8a8"/><rect x="901" y="8" width="3" height="1" fill="#a8a8a8"/><rect x="901" y="10" width="3" height="1" fill="#a8a8a8"/><rect x="901" y="12" width="3" height="1" fill="#a8a8a8"/><rect x="901" y="14" width="3" height="1" fill="#a8a8a8"/><rect x="901" y="16" width="3" height="1" fill="#a8a8a8"/><rect x="901" y="18" width="3" height="1" fill="#a8a8a8"/><rect x="901" y="20" width="3" height="1" fill="#a8a8a8"/>
<rect x="1075" y="0" width="25" height="22" fill="url(#chk)"/><rect x="1075" y="0" width="25" height="1" fill="#a0a0a0"/><rect x="1075" y="0" width="1" height="22" fill="#a0a0a0"/><rect x="1100" y="0" width="1" height="22" fill="#fff"/><rect x="1075" y="21" width="26" height="1" fill="#fff"/>
<rect x="1158" y="0" width="1" height="24" fill="#a0a0a0"/><rect x="1159" y="0" width="1" height="24" fill="#fff"/>
<path d="M1625.600 12.600l-4.300 4.100" stroke="#2060d0" stroke-width="2.600" stroke-linecap="round"/><circle cx="1628.400" cy="9.300" r="3.700" fill="#f6f8fc" stroke="#2060d0" stroke-width="1.400"/>
<path d="M1659 14.500l1.500 2-0.300-2.500z" fill="#808080"/><ellipse cx="1661.200" cy="8.900" rx="6.300" ry="4.600" fill="#fafafc" stroke="#8a8a8a" stroke-width="1"/><path d="M1663.500 13.200l1 2.300-2.600-2.200z" fill="#707070"/>
<ellipse cx="1652.300" cy="12.900" rx="4.900" ry="3.700" fill="#fafafc" stroke="#8a8a8a" stroke-width="1"/><path d="M1650.500 16.300l-0.800 2.300 2.600-2.200z" fill="#707070"/>
</svg>
<div class="tf" style="left:899.0px;width:40px;text-align:center;">M1</div>
<div class="tf" style="left:927.0px;width:40px;text-align:center;">M5</div>
<div class="tf" style="left:955.6px;width:40px;text-align:center;">M15</div>
<div class="tf" style="left:983.7px;width:40px;text-align:center;">M30</div>
<div class="tf" style="left:1011.5px;width:40px;text-align:center;">H1</div>
<div class="tf" style="left:1038.8px;width:40px;text-align:center;">H4</div>
<div class="tf" style="left:1067.5px;width:40px;text-align:center;">D1</div>
<div class="tf" style="left:1096.2px;width:40px;text-align:center;">W1</div>
<div class="tf" style="left:1122.8px;width:40px;text-align:center;">MN</div>
</body></html>
